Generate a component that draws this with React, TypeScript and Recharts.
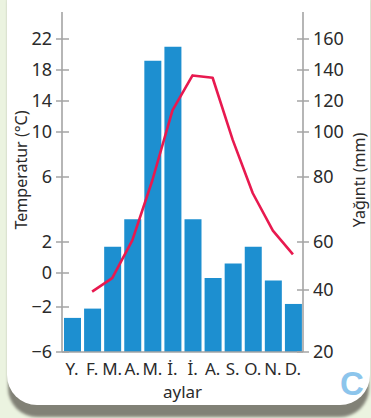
import React from 'react';
import { ComposedChart, Bar, Line, XAxis, YAxis } from 'recharts';

// month initials (Turkish)
const months = ['Y.', 'F.', 'M.', 'A.', 'M.', 'İ.', 'İ.', 'A.', 'S.', 'O.', 'N.', 'D.'];
// precipitation, mm
const rainfall = [31, 34, 58, 67, 146, 155, 67, 45, 51, 58, 44, 35.5];
// temperature, °C (no January point on the curve)
const temperature = [null, -1.1, -0.3, 2.1, 5.8, 12.8, 17.3, 17.0, 9.3, 5.0, 2.7, 1.2];

// the axes are hand-spaced: each tick value sits at a stop on a 0..340 track
const tempTicks = [-6, -2, 0, 2, 6, 10, 14, 18, 22];
const tempStops = [0, 45, 79, 110, 175, 220, 251, 282, 313];
const rainTicks = [20, 40, 60, 80, 100, 120, 140, 160];
const rainStops = [0, 62, 110, 175, 220, 251, 282, 313];

const TRACK_MAX = 340;
const axisGray = '#a4a4a4';
const textColor = '#2b2b2b';
const font = '"Noto Sans", sans-serif';

// piecewise linear map from a value to the track
function toTrack(v: number, ticks: number[], stops: number[]): number {
  for (let i = 1; i < ticks.length; i++) {
    if (v <= ticks[i] || i === ticks.length - 1) {
      const t = (v - ticks[i - 1]) / (ticks[i] - ticks[i - 1]);
      return stops[i - 1] + t * (stops[i] - stops[i - 1]);
    }
  }
  return 0;
}

const data = months.map((m, i) => ({
  idx: i,
  month: m,
  rain: toTrack(rainfall[i], rainTicks, rainStops),
  temp: temperature[i] == null ? null : toTrack(temperature[i] as number, tempTicks, tempStops),
}));

const fmt = (n: number) => (n < 0 ? '\u2212' + Math.abs(n) : String(n));

const LeftTick = (props: any) => {
  const { x, y, payload } = props;
  const label = tempTicks[tempStops.indexOf(payload.value)];
  return (
    <g>
      <line x1={x - 6} x2={x + 7} y1={y} y2={y} stroke={axisGray} strokeWidth={1.5} />
      <text x={x - 10} y={y} dy="0.36em" textAnchor="end" fontSize={18} fontFamily={font} fill={textColor}>
        {fmt(label)}
      </text>
    </g>
  );
};

const RightTick = (props: any) => {
  const { x, y, payload } = props;
  const label = rainTicks[rainStops.indexOf(payload.value)];
  return (
    <g>
      <line x1={x - 6} x2={x + 6} y1={y} y2={y} stroke={axisGray} strokeWidth={1.5} />
      <text x={x + 10} y={y} dy="0.36em" textAnchor="start" fontSize={18} fontFamily={font} fill={textColor}>
        {label}
      </text>
    </g>
  );
};

const MonthTick = (props: any) => {
  const { x, y, payload } = props;
  return (
    <text x={x} y={y + 21} textAnchor="middle" fontSize={17} fontFamily={font} fill={textColor}>
      {months[payload.value]}
    </text>
  );
};

export default function App() {
  return (
    <div style={{ position: 'absolute', left: 0, top: 0, width: 371, height: 418, overflow: 'hidden', background: '#ebf3e0' }}>
      <div
        style={{
          position: 'absolute',
          left: 7,
          top: -40,
          width: 363,
          height: 445,
          borderRadius: 30,
          background: '#ffffff',
          boxShadow: '0 13px 3px -1px #818176',
        }}
      />
      <div style={{ position: 'absolute', left: 0, top: 0 }}>
        <ComposedChart width={371} height={418} data={data} margin={{ top: 12, right: 0, bottom: 14, left: 0 }}>
          <XAxis
            dataKey="idx"
            type="category"
            height={52}
            interval={0}
            tickLine={false}
            tickSize={0}
            axisLine={{ stroke: axisGray, strokeWidth: 1.6 }}
            tick={<MonthTick />}
            label={{
              content: (p: any) => (
                <text
                  x={p.viewBox.x + p.viewBox.width / 2}
                  y={p.viewBox.y + 46}
                  textAnchor="middle"
                  fontSize={17}
                  fontFamily={font}
                  fill={textColor}
                >
                  aylar
                </text>
              ),
            }}
          />
          <YAxis
            yAxisId="temp"
            type="number"
            width={62}
            domain={[0, TRACK_MAX]}
            ticks={tempStops}
            interval={0}
            tickLine={false}
            tickSize={0}
            tickMargin={0}
            axisLine={{ stroke: axisGray, strokeWidth: 1.6 }}
            tick={<LeftTick />}
            label={{
              content: (p: any) => {
                const cx = 21;
                const cy = p.viewBox.y + 158;
                return (
                  <text
                    x={cx}
                    y={cy}
                    transform={`rotate(-90 ${cx} ${cy})`}
                    dy="0.35em"
                    textAnchor="middle"
                    fontSize={16}
                    fontFamily={font}
                    fill={textColor}
                  >
                    Temperatur (°C)
                  </text>
                );
              },
            }}
          />
          <YAxis
            yAxisId="rain"
            orientation="right"
            type="number"
            width={68}
            domain={[0, TRACK_MAX]}
            ticks={rainStops}
            interval={0}
            tickLine={false}
            tickSize={0}
            tickMargin={0}
            axisLine={{ stroke: axisGray, strokeWidth: 1.6 }}
            tick={<RightTick />}
            label={{
              content: (p: any) => {
                const cx = 359;
                const cy = p.viewBox.y + 168;
                return (
                  <text
                    x={cx}
                    y={cy}
                    transform={`rotate(-90 ${cx} ${cy})`}
                    dy="0.35em"
                    textAnchor="middle"
                    fontSize={16}
                    fontFamily={font}
                    fill={textColor}
                  >
                    Yağıntı (mm)
                  </text>
                );
              },
            }}
          />
          <Bar yAxisId="rain" dataKey="rain" fill="#1d8fd0" barSize={17} isAnimationActive={false} />
          <Line
            yAxisId="temp"
            dataKey="temp"
            type="linear"
            stroke="#e8194f"
            strokeWidth={2.6}
            strokeLinejoin="round"
            dot={false}
            activeDot={false}
            connectNulls={false}
            isAnimationActive={false}
          />
        </ComposedChart>
      </div>
      <div
        style={{
          position: 'absolute',
          left: 340,
          top: 364,
          fontFamily: '"Liberation Sans", Arial, sans-serif',
          fontWeight: 700,
          fontSize: 33,
          color: '#8cc5ec',
          lineHeight: '40px',
        }}
      >
        C
      </div>
    </div>
  );
}
